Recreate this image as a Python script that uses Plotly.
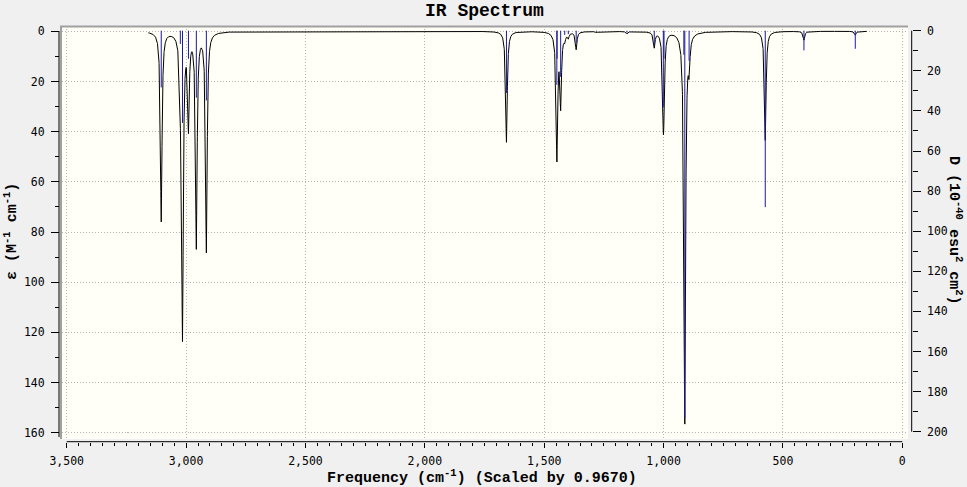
import numpy as np
import plotly.graph_objects as go

# ---- data ----
# stick spectrum: frequency (cm-1, scaled) and dipole strength D (10^-40 esu^2 cm^2)
stick_freq = [3104, 3024, 3015, 2990, 2957, 2915, 1658, 1447, 1446, 1431, 1414, 1399,
              1366, 1281, 1153, 1039, 1001, 998, 915, 911, 893, 574, 412, 197]
stick_D = [28.3, 6.6, 46.0, 14.0, 33.4, 34.8, 31.0, 27.0, 14.0, 23.0, 2.1, 1.7,
           6.0, 0.4, 1.0, 6.8, 38.0, 14.0, 12.0, 193.0, 15.0, 88.0, 9.8, 9.0]
eps_per_D_cm = 8.6e-4        # epsilon peak height per (D * frequency)
hwhm = 4.0                   # Lorentzian half-width at half height (cm-1)
curve_range = [149, 3158]    # extent of the broadened spectrum
x_ticks = [0, 500, 1000, 1500, 2000, 2500, 3000, 3500]

# ---- broadened spectrum built from the sticks ----
grid = np.union1d(np.linspace(curve_range[0], curve_range[1], 12037), stick_freq)
eps = np.zeros_like(grid)
for f, d in zip(stick_freq, stick_D):
    eps += eps_per_D_cm * d * f * hwhm**2 / ((grid - f) ** 2 + hwhm**2)

sx, sy = [], []
for f, d in zip(stick_freq, stick_D):
    sx += [f, f, None]
    sy += [0, d, None]

# ---- geometry helpers (pixels -> paper) ----
W, H = 967, 487
ML, MR, MT, MB = 40, 40, 20, 30
PW, PH = W - ML - MR, H - MT - MB


def px(x):
    return (x - ML) / PW


def py(y):
    return (H - MB - y) / PH


x_px_per = (902.3 - 66.7) / 3500.0
x_rng = [3500 + (66.7 - 61.5) / x_px_per, -(908 - 902.3) / x_px_per]
yl_per = (432.7 - 31.3) / 160.0
yl_rng = [160 + (439 - 432.7) / yl_per, -(31.3 - 26) / yl_per]
yr_per = (431.7 - 30.7) / 200.0
yr_rng = [200 + (439 - 431.7) / yr_per, -(30.7 - 26) / yr_per]

tickfont = dict(family="DejaVu Sans Mono", size=11.5, color="#000000")
titlefont = dict(family="Liberation Mono", size=15, color="#000000")
grid_dash = "1px,2px"
grid_color = "#b4b4b4"

fig = go.Figure()
fig.add_trace(go.Scatter(x=grid, y=eps, mode="lines", line=dict(color="#000000", width=1),
                         hoverinfo="skip", showlegend=False))
fig.add_trace(go.Scatter(x=sx, y=sy, mode="lines", yaxis="y2", line=dict(color="#1a1aa0", width=1),
                         hoverinfo="skip", showlegend=False))

fig.update_layout(
    width=W, height=H,
    margin=dict(l=ML, r=MR, t=MT, b=MB, pad=0),
    paper_bgcolor="#f0f0f0",
    plot_bgcolor="#fffff7",
    showlegend=False,
    xaxis=dict(
        domain=[px(61.5), px(908)], range=x_rng, anchor="free", position=py(441.7),
        showline=False, zeroline=False,
        tickmode="array", tickvals=x_ticks, tickformat=",d",
        ticks="outside", ticklen=5, tickwidth=1, tickcolor="#000000",
        minor=dict(dtick=50, tick0=0, ticks="outside", ticklen=3, tickcolor="#000000", showgrid=False),
        showgrid=True, gridcolor=grid_color, griddash=grid_dash, gridwidth=1,
        tickfont=tickfont, ticklabelstandoff=3,
    ),
    yaxis=dict(
        domain=[py(439), py(26)], range=yl_rng, anchor="free", position=px(59),
        showline=False, zeroline=False,
        dtick=20, tick0=0, ticks="outside", ticklen=8, tickwidth=1, tickcolor="#000000",
        minor=dict(dtick=10, tick0=0, ticks="outside", ticklen=4, tickcolor="#000000", showgrid=False),
        showgrid=True, gridcolor=grid_color, griddash=grid_dash, gridwidth=1,
        tickfont=tickfont, ticklabelstandoff=4,
    ),
    yaxis2=dict(
        overlaying="y", side="right", range=yr_rng, anchor="free", position=px(911.7),
        showline=False, zeroline=False, showgrid=False,
        dtick=20, tick0=0, ticks="outside", ticklen=8, tickwidth=1, tickcolor="#000000",
        minor=dict(dtick=10, tick0=0, ticks="outside", ticklen=5, tickcolor="#000000", showgrid=False),
        tickfont=tickfont, ticklabelstandoff=4,
    ),
)

shapes = [
    # panel border (top and left, gray)
    dict(type="line", xref="paper", yref="paper", x0=px(60), x1=px(908), y0=py(26.5), y1=py(26.5),
         line=dict(color="#a0a0a0", width=2)),
    dict(type="line", xref="paper", yref="paper", x0=px(61), x1=px(61), y0=py(26), y1=py(439),
         line=dict(color="#a0a0a0", width=2)),
    # axis lines
    dict(type="line", xref="paper", yref="paper", x0=px(59), x1=px(59), y0=py(31), y1=py(437),
         line=dict(color="#000000", width=1)),
    dict(type="line", xref="paper", yref="paper", x0=px(911.7), x1=px(911.7), y0=py(30.7), y1=py(431.7),
         line=dict(color="#000000", width=1)),
    dict(type="line", xref="paper", yref="paper", x0=px(66.7), x1=px(902.3), y0=py(441.7), y1=py(441.7),
         line=dict(color="#000000", width=1)),
]
fig.update_layout(shapes=shapes)

fig.update_layout(annotations=[
    dict(text="<b>IR Spectrum</b>", xref="paper", yref="paper", x=px(484), y=py(11),
         xanchor="center", yanchor="middle", showarrow=False,
         font=dict(family="Liberation Mono", size=18, color="#000000")),
    dict(text="<b>Frequency (cm<sup>-1</sup>) (Scaled by 0.9670)</b>", xref="paper", yref="paper",
         x=px(482), y=py(477.5), xanchor="center", yanchor="middle", showarrow=False, font=titlefont),
    dict(text="<b>ε (M<sup>-1</sup> cm<sup>-1</sup>)</b>", xref="paper", yref="paper",
         x=px(11), y=py(232), xanchor="center", yanchor="middle", textangle=-90, showarrow=False,
         font=titlefont),
    dict(text="<b>D (10<sup>-40</sup> esu<sup>2</sup> cm<sup>2</sup>)</b>", xref="paper", yref="paper",
         x=px(955), y=py(230), xanchor="center", yanchor="middle", textangle=90, showarrow=False,
         font=titlefont),
])

fig.write_html(
    "out.html",
    config={"displayModeBar": False},
    post_script="document.body.style.margin='0px';document.body.style.overflow='hidden';",
)
